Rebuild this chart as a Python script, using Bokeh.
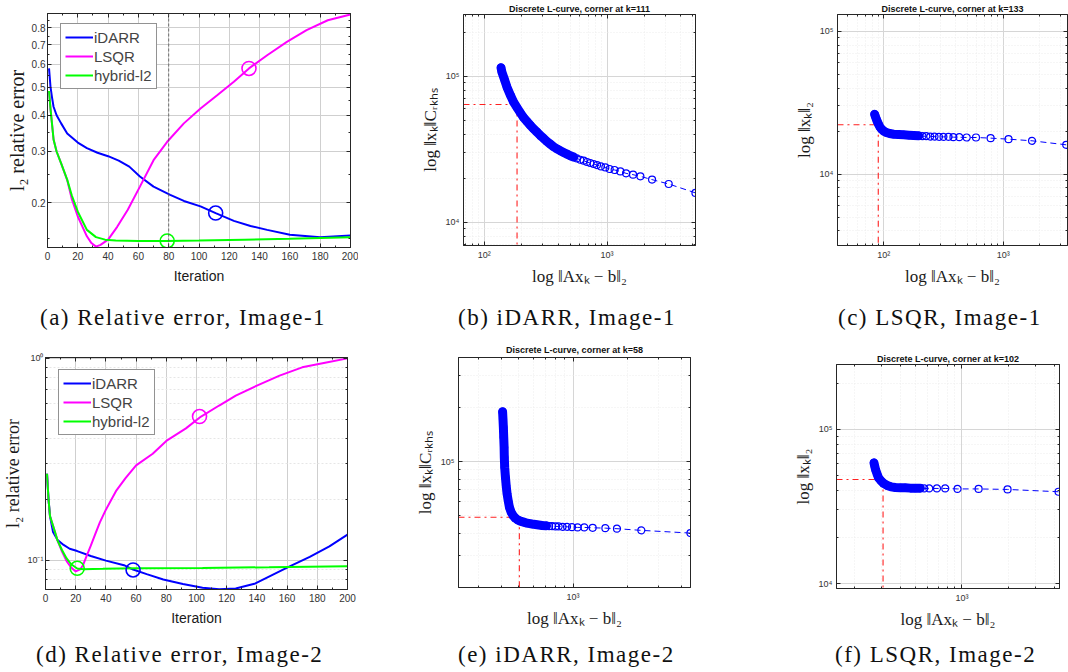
from bokeh.plotting import figure
from bokeh.models import (Range1d, FixedTicker, LinearAxis, LogAxis, CustomJSTickFormatter,
                          Legend, LegendItem, Span, Div)
from bokeh.layouts import row, column
from bokeh.embed import file_html
from bokeh.resources import INLINE

# ---------------- data ----------------
iter_ticks = [0, 20, 40, 60, 80, 100, 120, 140, 160, 180, 200]

# (a) relative error, Image-1
a_idarr_k = [1, 2, 3, 4, 6, 9, 13, 20, 26, 33, 40, 47, 54, 61, 70, 81, 90, 101, 111, 123, 134, 145, 160, 180, 200]
a_idarr_e = [0.58, 0.50, 0.46, 0.428, 0.40, 0.375, 0.346, 0.322, 0.308, 0.297, 0.289, 0.279, 0.266, 0.246,
             0.227, 0.2126, 0.2026, 0.194, 0.184, 0.173, 0.166, 0.161, 0.155, 0.152, 0.154]
a_lsqr_k = [1, 2, 4, 6, 9, 13, 16, 20, 26, 29, 32, 35, 40, 46, 53, 61, 70, 79, 90, 101, 112, 123, 133, 145,
            158, 171, 185, 200]
a_lsqr_e = [0.485, 0.42, 0.33, 0.30, 0.273, 0.239, 0.206, 0.179, 0.153, 0.145, 0.141, 0.143, 0.149, 0.165,
            0.189, 0.227, 0.280, 0.324, 0.375, 0.422, 0.469, 0.522, 0.58, 0.644, 0.716, 0.786, 0.85, 0.89]
a_hyb_k = [1, 2, 4, 6, 9, 13, 16, 20, 26, 32, 38, 45, 60, 79, 100, 130, 160, 200]
a_hyb_e = [0.485, 0.42, 0.33, 0.30, 0.273, 0.240, 0.212, 0.186, 0.161, 0.152, 0.149, 0.148, 0.1475, 0.1475,
           0.148, 0.149, 0.150, 0.152]
a_stop_k = [111, 133, 79]          # iDARR, LSQR, hybrid-l2
a_stop_e = [0.184, 0.58, 0.1475]
a_yticks = [0.2, 0.3, 0.4, 0.5, 0.6, 0.7, 0.8]
a_dashed_x = 80

# (d) relative error, Image-2
d_idarr_k = [1, 2, 3, 5, 8, 12, 16, 21, 30, 40, 52, 58, 67, 78, 91, 104, 115, 126, 139, 150, 161, 175, 188, 200]
d_idarr_e = [0.268, 0.20, 0.165, 0.138, 0.126, 0.119, 0.114, 0.111, 0.105, 0.0995, 0.0945, 0.0899, 0.0853,
             0.0803, 0.0763, 0.073, 0.0719, 0.0724, 0.0767, 0.0843, 0.0927, 0.1039, 0.117, 0.134]
d_lsqr_k = [1, 2, 3, 5, 8, 11, 14, 17, 20, 23, 25, 27, 30, 33, 36, 40, 47, 53, 60, 71, 80, 93, 103, 115, 126,
            140, 155, 170, 186, 200]
d_lsqr_e = [0.268, 0.20, 0.165, 0.148, 0.125, 0.110, 0.099, 0.092, 0.088, 0.090, 0.095, 0.104, 0.118, 0.135,
            0.154, 0.178, 0.222, 0.255, 0.295, 0.337, 0.39, 0.45, 0.515, 0.584, 0.654, 0.733, 0.821, 0.903,
            0.955, 1.0]
d_hyb_k = [1, 2, 3, 5, 8, 11, 14, 17, 21, 25, 38, 60, 104, 148, 200]
d_hyb_e = [0.268, 0.20, 0.165, 0.148, 0.125, 0.112, 0.102, 0.0955, 0.0910, 0.0903, 0.0906, 0.0913, 0.0916,
           0.0923, 0.0934]
d_stop_k = [58, 102, 21]
d_stop_e = [0.0895, 0.515, 0.0912]

# (b) L-curve iDARR, Image-1 (k = 1 ... 200, right to left)
b_resid = [5245, 3177, 2325, 1868, 1628, 1428, 1283, 1153, 1050, 968, 893, 828, 778, 731, 687, 645, 606, 569,
           534, 502, 472, 443, 416, 391, 367, 345, 324, 305, 286, 269, 252, 237, 223, 209, 197, 185, 173, 163,
           153, 146, 139, 137]
b_norm = [1.589e4, 1.829e4, 1.959e4, 2.062e4, 2.118e4, 2.163e4, 2.23e4, 2.28e4, 2.317e4, 2.375e4, 2.412e4,
          2.466e4, 2.506e4, 2.546e4, 2.586e4, 2.64e4, 2.68e4, 2.736e4, 2.797e4, 2.855e4, 2.93e4, 3.007e4,
          3.09e4, 3.187e4, 3.29e4, 3.43e4, 3.574e4, 3.75e4, 3.93e4, 4.146e4, 4.365e4, 4.625e4, 4.9e4, 5.21e4,
          5.615e4, 6.1e4, 6.674e4, 7.45e4, 8.45e4, 9.54e4, 1.075e5, 1.145e5]
b_dense_from = 18
b_corner = (185, 6.4e4)

# (c) L-curve LSQR, Image-1
c_resid = [3376, 1746, 1109, 785, 592, 495, 430, 383, 348, 316, 290, 266, 245, 227, 211, 196, 178, 162, 147,
           133, 121, 112, 105, 100, 95.7, 92.6, 90.3, 88.1, 86.4, 84.8, 83.7]
c_norm = [1.601e4, 1.708e4, 1.754e4, 1.783e4, 1.802e4, 1.802e4, 1.811e4, 1.811e4, 1.82e4, 1.82e4, 1.82e4,
          1.83e4, 1.83e4, 1.84e4, 1.84e4, 1.85e4, 1.86e4, 1.87e4, 1.88e4, 1.89e4, 1.90e4, 1.92e4, 1.954e4,
          1.995e4, 2.061e4, 2.138e4, 2.233e4, 2.33e4, 2.43e4, 2.54e4, 2.62e4]
c_dense_from = 15
c_corner = (89.8, 2.21e4)

# (e) L-curve iDARR, Image-2
e_resid = [4487, 2395, 1754, 1512, 1285, 1156, 1061, 987, 926, 875, 832, 798, 765, 736, 711, 673, 631, 592,
           555, 532, 510, 492, 478, 464, 453, 443, 436, 430, 425, 421, 417, 415, 414, 412, 410, 408, 406]
e_norm = [4.0e4, 4.14e4, 4.23e4, 4.26e4, 4.28e4, 4.30e4, 4.30e4, 4.315e4, 4.335e4, 4.335e4, 4.355e4, 4.355e4,
          4.37e4, 4.37e4, 4.39e4, 4.41e4, 4.45e4, 4.49e4, 4.54e4, 4.60e4, 4.66e4, 4.74e4, 4.84e4, 5.01e4,
          5.23e4, 5.57e4, 6.07e4, 6.61e4, 7.36e4, 8.18e4, 9.3e4, 1.057e5, 1.20e5, 1.365e5, 1.551e5, 1.726e5,
          1.896e5]
e_dense_from = 14
e_corner = (503, 4.9e4)

# (f) L-curve LSQR, Image-2
f_resid = [4240, 1977, 1282, 936, 779, 688, 613, 569, 536, 497, 462, 428, 398, 369, 346, 326, 310, 298, 287,
           281, 275, 271, 268]
f_norm = [3.94e4, 4.08e4, 4.11e4, 4.11e4, 4.14e4, 4.14e4, 4.14e4, 4.14e4, 4.16e4, 4.16e4, 4.16e4, 4.18e4,
          4.18e4, 4.20e4, 4.24e4, 4.33e4, 4.46e4, 4.64e4, 4.85e4, 5.13e4, 5.45e4, 5.78e4, 6.07e4]
f_dense_from = 8
f_corner = (307, 4.73e4)

methods = ["iDARR", "LSQR", "hybrid-l2"]
captions = ["(a) Relative error, Image-1", "(b) iDARR, Image-1", "(c) LSQR, Image-1",
            "(d) Relative error, Image-2", "(e) iDARR, Image-2", "(f) LSQR, Image-2"]

# ---------------- style ----------------
SANS = "Liberation Sans"
SERIF = "Liberation Serif"
AX = "#262626"
GRID = "#cfcfcf"
COLORS = ["#0000ff", "#ff00ff", "#00ff00"]

SUP_JS = """
const sup = {"-":"\u207b","0":"\u2070","1":"\u00b9","2":"\u00b2","3":"\u00b3","4":"\u2074",
             "5":"\u2075","6":"\u2076","7":"\u2077","8":"\u2078","9":"\u2079"};
const e = Math.round(Math.log10(tick));
return "10" + String(e).split("").map(c => sup[c]).join("");
"""


def log_minor(e0, e1):
    return [m * 10.0 ** e for e in range(e0, e1 + 1) for m in range(2, 10)]


def style_axis(ax, labels=True, size="10px"):
    ax.axis_line_color = AX
    ax.major_tick_line_color = AX
    ax.minor_tick_line_color = AX
    ax.major_tick_in = 4
    ax.major_tick_out = 0
    ax.minor_tick_in = 2
    ax.minor_tick_out = 0
    ax.major_label_text_font = SANS
    ax.major_label_text_color = "#333333"
    ax.major_label_text_font_size = size if labels else "1px"
    ax.major_label_standoff = 4 if labels else 0
    ax.axis_label_text_font_style = "normal"
    ax.axis_label_text_color = "#1a1a1a"
    if not labels:
        ax.formatter = CustomJSTickFormatter(code="return '';")


def make_fig(w, h, borders, xr, yr, xlog, ylog, xticker, yticker, xfmt, yfmt):
    left, right, top, bottom = borders
    p = figure(width=w, height=h, x_range=Range1d(*xr), y_range=Range1d(*yr),
               x_axis_type="log" if xlog else "linear", y_axis_type="log" if ylog else "linear",
               output_backend="svg", toolbar_location=None, frame_align=False,
               min_border_left=left, min_border_right=right, min_border_top=top, min_border_bottom=bottom)
    p.outline_line_color = AX
    p.outline_line_width = 1
    top_ax = (LogAxis if xlog else LinearAxis)(ticker=xticker)
    right_ax = (LogAxis if ylog else LinearAxis)(ticker=yticker)
    p.add_layout(top_ax, "above")
    p.add_layout(right_ax, "right")
    bx, ly = p.below[0], p.left[0]
    bx.ticker = xticker
    ly.ticker = yticker
    bx.formatter = xfmt
    ly.formatter = yfmt
    style_axis(bx)
    style_axis(ly)
    style_axis(top_ax, labels=False)
    style_axis(right_ax, labels=False)
    p.xgrid.ticker = xticker
    p.ygrid.ticker = yticker
    p.xgrid.grid_line_color = GRID
    p.ygrid.grid_line_color = GRID
    return p, bx, ly


def rel_err(w, h, borders, yr, yticks, yminor, yfmt, series, stops, legend_loc, minor_grid,
            tick_size, label_size):
    xt = FixedTicker(ticks=iter_ticks, minor_ticks=list(range(10, 200, 20)))
    yt = FixedTicker(ticks=yticks, minor_ticks=yminor)
    xfmt = CustomJSTickFormatter(code="return tick.toFixed(0);")
    p, bx, ly = make_fig(w, h, borders, (0, 200), yr, False, True, xt, yt, xfmt, yfmt)
    if minor_grid:
        p.ygrid.minor_grid_line_color = "#e6e6e6"
        p.ygrid.minor_grid_line_dash = "2 2"
    bx.axis_label = "Iteration"
    bx.axis_label_text_font = SANS
    bx.axis_label_text_font_size = "14px"
    bx.axis_label_standoff = 5
    ly.major_label_text_font_size = tick_size
    ly.major_label_standoff = 2
    ly.axis_label = "l\u2082 relative error"
    ly.axis_label_text_font = SERIF
    ly.axis_label_text_font_size = label_size
    ly.axis_label_standoff = 1
    items = []
    for (k, e), name, col in zip(series, methods, COLORS):
        r = p.line(k, e, line_color=col, line_width=2)
        items.append(LegendItem(label=name, renderers=[r]))
    for k, e, col in zip(stops[0], stops[1], COLORS):
        p.scatter([k], [e], marker="circle", size=14, fill_alpha=0, line_color=col, line_width=1.6)
    leg = Legend(items=items, location=legend_loc, glyph_width=28, glyph_height=18, label_height=18,
                 label_standoff=1, spacing=1, padding=4, margin=0, label_text_font=SANS,
                 label_text_font_size="15px", border_line_color=AX, border_line_width=1,
                 background_fill_alpha=1.0)
    p.add_layout(leg)
    return p


def lcurve(w, h, borders, xr, yr, xticks, xminor, yticks, yminor, resid, norm, dense, corner, title, ylabel,
           title_gap):
    xt = FixedTicker(ticks=xticks, minor_ticks=xminor)
    yt = FixedTicker(ticks=yticks, minor_ticks=yminor)
    p, bx, ly = make_fig(w, h, borders, xr, yr, True, True, xt, yt,
                         CustomJSTickFormatter(code=SUP_JS), CustomJSTickFormatter(code=SUP_JS))
    for ax in (bx, ly):
        ax.major_label_text_font_size = "9px"
        ax.axis_label_text_font = SERIF
        ax.axis_label_text_font_size = "17px"
    bx.axis_label = "log \u2016Ax\u2096 \u2212 b\u2016\u2082"
    ly.axis_label = ylabel
    bx.axis_label_standoff = 4
    ly.axis_label_standoff = 3
    for g in (p.xgrid, p.ygrid):
        g.grid_line_color = "#d6d6d6"
        g.minor_grid_line_color = "#ececec"
        g.minor_grid_line_dash = "1 2"
    p.title.text = title
    p.title.align = "center"
    p.title.text_font = SANS
    p.title.text_font_size = "9px"
    p.title.text_font_style = "bold"
    p.title.text_color = "#111111"
    p.title.standoff = title_gap
    cx, cy = corner
    p.segment(x0=[xr[0], cx], y0=[cy, cy], x1=[cx, cx], y1=[cy, yr[0]], line_color="#ff2020",
              line_dash="dashdot", line_width=1.1)
    p.line(resid, norm, line_color="#0000ff", line_dash="6 4", line_width=1)
    p.line(resid[dense:], norm[dense:], line_color="#0000ff", line_width=9, line_cap="round",
           line_join="round")
    p.scatter(resid, norm, marker="circle", size=7, fill_alpha=0, line_color="#0000ff", line_width=1.2)
    return p


def caption(text, w, pad_left):
    html = (f'<div style="font-family:\'{SERIF}\';font-size:23px;letter-spacing:1.5px;line-height:24px;'
            f'color:#111;white-space:nowrap;padding-left:{pad_left}px;padding-top:8px">{text}</div>')
    return Div(text=html, width=w, height=37, margin=0)


fa = rel_err(358, 298, (47, 8, 13, 51), (0.14, 0.897), a_yticks,
             [0.15, 0.25, 0.35, 0.45, 0.55, 0.65, 0.75, 0.85],
             CustomJSTickFormatter(code="return tick.toFixed(1);"),
             [(a_idarr_k, a_idarr_e), (a_lsqr_k, a_lsqr_e), (a_hyb_k, a_hyb_e)],
             (a_stop_k, a_stop_e), (13, 158), False, "10px", "20px")
fa.add_layout(Span(location=a_dashed_x, dimension="height", line_color="#555555", line_dash="3 2",
                   line_width=1, line_alpha=0.8))

fd = rel_err(358, 300, (42, 11, 22, 46), (0.0716, 1.01), [0.1, 1.0],
             [0.08, 0.09] + [m / 10 for m in range(2, 10)],
             CustomJSTickFormatter(code=SUP_JS),
             [(d_idarr_k, d_idarr_e), (d_lsqr_k, d_lsqr_e), (d_hyb_k, d_hyb_e)],
             (d_stop_k, d_stop_e), (13, 154), True, "9px", "18px")

YC = "log \u2016x\u2096\u2016C\u1d63\u2096\u2095\u209b"
Y2 = "log \u2016x\u2096\u2016\u2082"

fb = lcurve(362, 298, (105, 25, 13, 53), (67.8, 5250), (6930, 2.65e5), [100, 1000], log_minor(1, 3),
            [1e4, 1e5], log_minor(3, 5), b_resid, b_norm, b_dense_from, b_corner,
            "Discrete L-curve, corner at k=111", YC, 2)
fc = lcurve(348, 298, (117, 1, 13, 53), (40.9, 3460), (3160, 1.308e5), [100, 1000], log_minor(1, 3),
            [1e4, 1e5], log_minor(3, 5), c_resid, c_norm, c_dense_from, c_corner,
            "Discrete L-curve, corner at k=133", Y2, 2)
fe = lcurve(362, 300, (100, 30, 22, 48), (231, 4490), (1.99e4, 3.8e5), [1000], log_minor(2, 3),
            [1e5], log_minor(4, 5), e_resid, e_norm, e_dense_from, e_corner,
            "Discrete L-curve, corner at k=58", YC, 5)
ff = lcurve(348, 300, (116, 9, 29, 47), (153, 4300), (9280, 2.64e5), [1000], log_minor(2, 3),
            [1e4, 1e5], log_minor(3, 5), f_resid, f_norm, f_dense_from, f_corner,
            "Discrete L-curve, corner at k=102", Y2, 1)

layout = column(
    row(fa, fb, fc),
    row(caption(captions[0], 358, 40), caption(captions[1], 362, 100), caption(captions[2], 348, 118)),
    row(fd, fe, ff),
    row(caption(captions[3], 358, 36), caption(captions[4], 362, 100), caption(captions[5], 348, 115)),
)

open("out.html", "w").write(file_html(layout, INLINE))
